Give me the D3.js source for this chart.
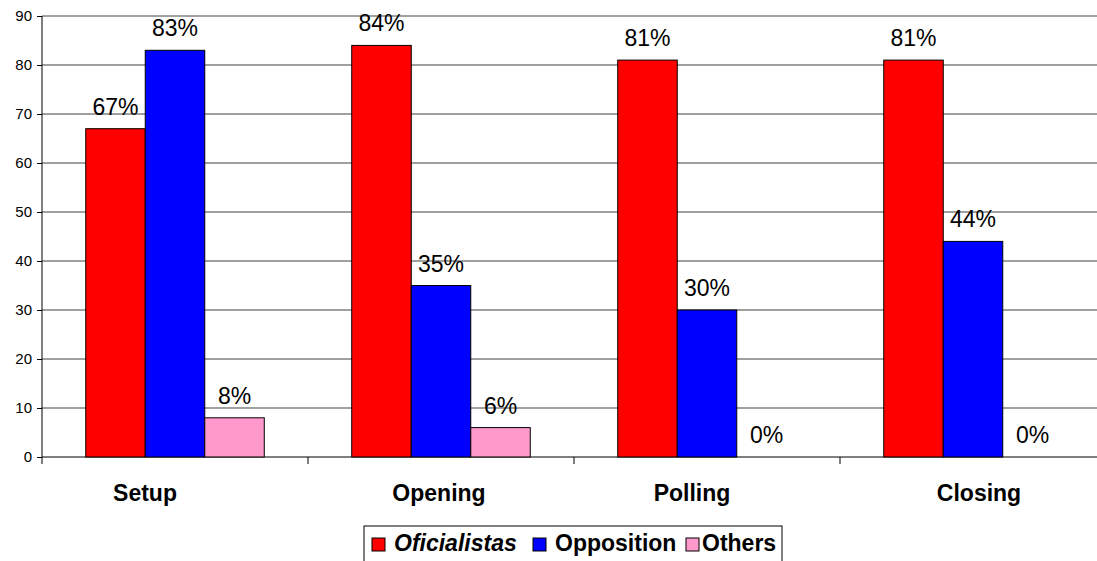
<!DOCTYPE html>
<html>
<head>
<meta charset="utf-8">
<script src="https://cdn.jsdelivr.net/npm/d3@7"></script>
<style>
  body { margin: 0; background: #fff; }
  svg { display: block; font-family: Arial, "Liberation Sans", sans-serif; }
</style>
</head>
<body>
<div id="chart"></div>
<script>
// DATA
const categories = ["Setup", "Opening", "Polling", "Closing"];
const seriesNames = ["Oficialistas", "Opposition", "Others"];
const oficialistas = [67, 84, 81, 81];
const opposition = [83, 35, 30, 44];
const others = [8, 6, 0, 0];
const yTicks = [0, 10, 20, 30, 40, 50, 60, 70, 80, 90];

const colors = ["#ff0000", "#0000ff", "#ff99cc"];
// category labels are not quite centred in the original
const labelNudge = [-30, -2, -15, 6];

const width = 1097, height = 561;
const margin = { top: 16, left: 42 };
const plotBottom = 457;

const svg = d3.select("#chart").append("svg")
  .attr("width", width).attr("height", height);

// SCALES
const yScale = d3.scaleLinear().domain([0, 90]).range([plotBottom, margin.top]);
const xScale = d3.scaleBand().domain(categories).range([margin.left, margin.left + 266 * 4]);
const xInner = d3.scaleBand().domain(seriesNames)
  .range([0, xScale.bandwidth()]).paddingOuter(0.735).paddingInner(0);

// gridlines
svg.append("g")
  .selectAll("line")
  .data(yTicks.filter(d => d > 0))
  .join("line")
  .attr("x1", margin.left).attr("x2", width)
  .attr("y1", d => yScale(d)).attr("y2", d => yScale(d))
  .attr("stroke", "#808080").attr("stroke-width", 1.3);

// y axis
const yAxis = d3.axisLeft(yScale).tickValues(yTicks).tickSize(5).tickPadding(5);
const gy = svg.append("g")
  .attr("transform", `translate(${margin.left},0)`)
  .call(yAxis);
gy.select(".domain").attr("stroke", "#000").attr("d", `M0,${margin.top}V${plotBottom}`);
gy.selectAll(".tick line").attr("stroke", "#000");
gy.selectAll("text").attr("font-size", 15).attr("fill", "#000").attr("font-family", "Arial, 'Liberation Sans', sans-serif");

// x axis
const gx = svg.append("g").attr("transform", `translate(0,${plotBottom})`);
gx.append("line").attr("x1", margin.left).attr("x2", width)
  .attr("stroke", "#000").attr("stroke-width", 1);
gx.selectAll(".xtick")
  .data(d3.range(5))
  .join("line")
  .attr("class", "xtick")
  .attr("x1", i => margin.left + i * xScale.step())
  .attr("x2", i => margin.left + i * xScale.step())
  .attr("y1", 0).attr("y2", 7)
  .attr("stroke", "#000");
gx.selectAll(".xlabel")
  .data(categories)
  .join("text")
  .attr("class", "xlabel")
  .attr("x", (d, i) => xScale(d) + xScale.bandwidth() / 2 + labelNudge[i])
  .attr("y", 44)
  .attr("text-anchor", "middle")
  .attr("font-size", 23).attr("font-weight", "bold")
  .text(d => d);

// BARS
const series = [oficialistas, opposition, others];
const flat = [];
categories.forEach((c, i) => {
  seriesNames.forEach((s, j) => flat.push({ cat: c, series: s, idx: j, value: series[j][i] }));
});

svg.append("g")
  .selectAll("rect")
  .data(flat.filter(d => d.value > 0))
  .join("rect")
  .attr("x", d => xScale(d.cat) + xInner(d.series))
  .attr("y", d => yScale(d.value))
  .attr("width", xInner.bandwidth())
  .attr("height", d => yScale(0) - yScale(d.value))
  .attr("fill", d => colors[d.idx])
  .attr("stroke", "#000").attr("stroke-width", 1);

svg.append("g")
  .selectAll("text")
  .data(flat)
  .join("text")
  .attr("x", d => xScale(d.cat) + xInner(d.series) + xInner.bandwidth() / 2)
  .attr("y", d => yScale(d.value) - 14)
  .attr("text-anchor", "middle")
  .attr("font-size", 23)
  .text(d => d.value + "%");

// LEGEND
const legend = svg.append("g").attr("transform", "translate(364,526)");
legend.append("rect")
  .attr("x", 0).attr("y", 0).attr("width", 418).attr("height", 45)
  .attr("fill", "#fff").attr("stroke", "#000").attr("stroke-width", 1);
const legendX = [8, 169, 322];
const legendItems = legend.selectAll(".item")
  .data(seriesNames)
  .join("g")
  .attr("class", "item")
  .attr("transform", (d, i) => `translate(${legendX[i]},0)`);
legendItems.append("rect")
  .attr("x", 0).attr("y", 12).attr("width", 13).attr("height", 13)
  .attr("fill", (d, i) => colors[i]).attr("stroke", "#000");
legendItems.append("text")
  .attr("x", (d, i) => i === 2 ? 16 : 22).attr("y", 25)
  .attr("font-size", 23).attr("font-weight", "bold")
  .attr("font-style", (d, i) => i === 0 ? "italic" : "normal")
  .text(d => d);
</script>
</body>
</html>
